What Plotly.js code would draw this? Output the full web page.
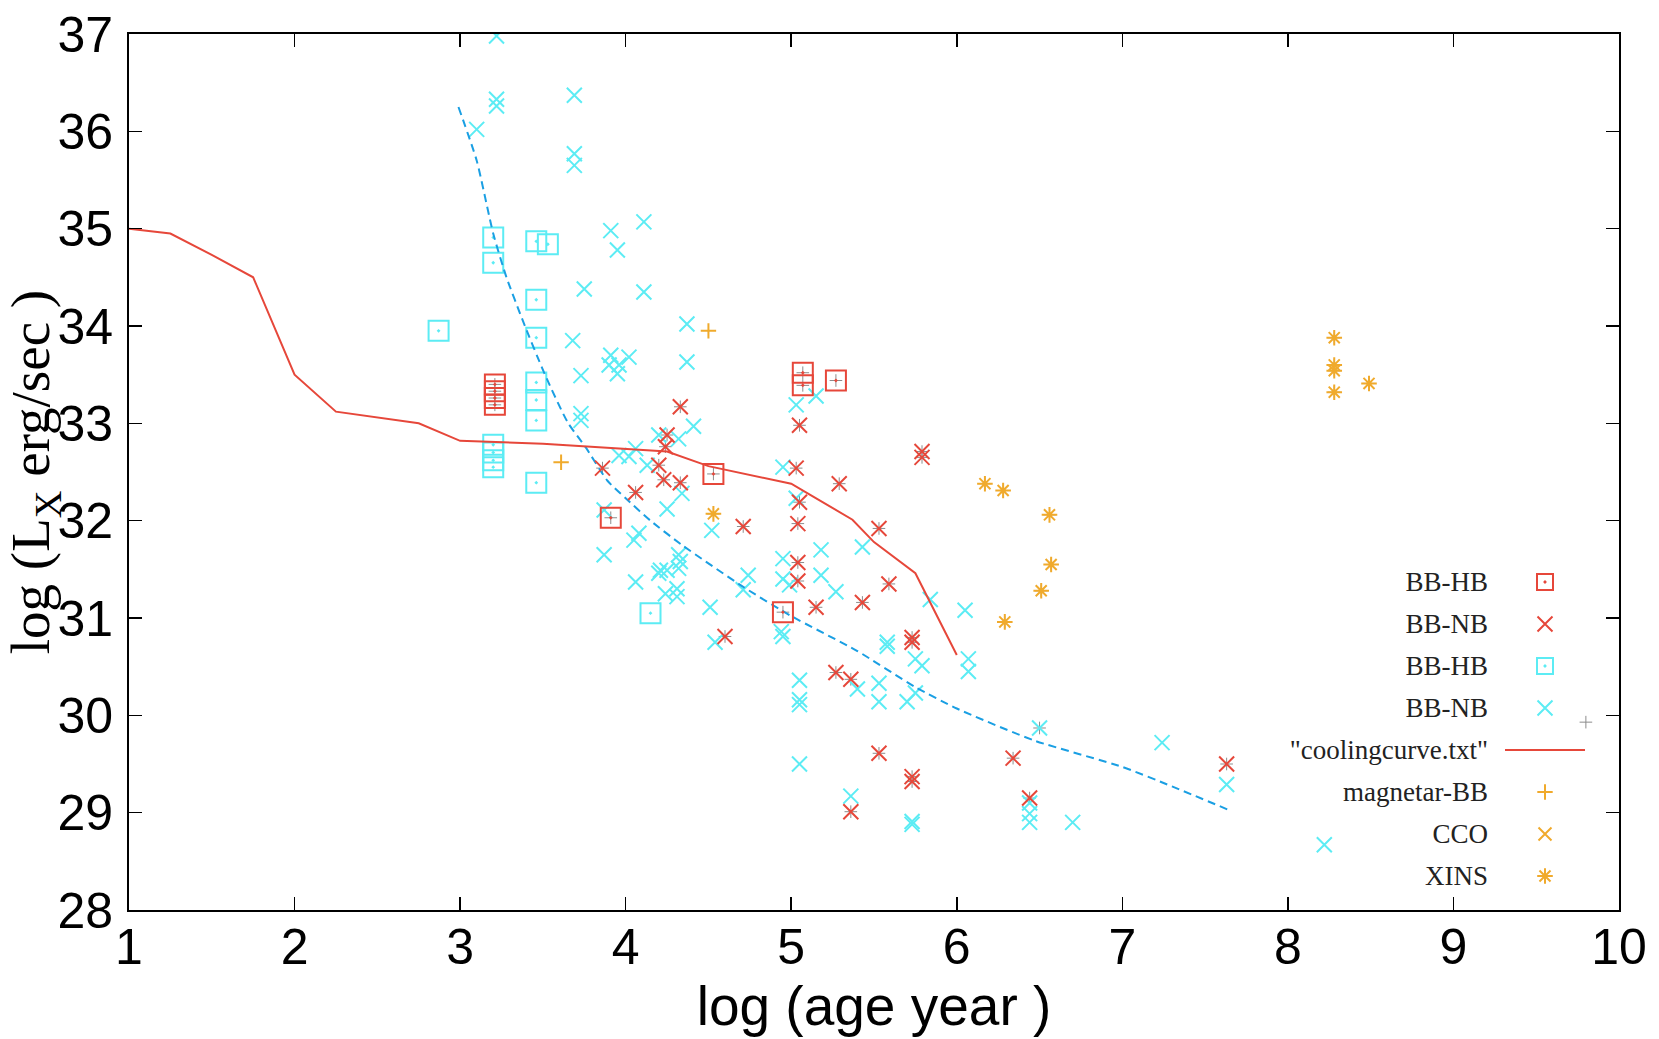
<!DOCTYPE html>
<html>
<head>
<meta charset="utf-8">
<script src="https://cdn.plot.ly/plotly-3.0.1.min.js"></script>
<style>html,body{margin:0;padding:0;background:#fff;}#chart{width:1659px;height:1039px;}</style>
</head>
<body>
<div id="chart"></div>
<script>
// ---------- data (log age [yr], log Lx [erg/s]) ----------
const hbRedX = [3.21, 3.21, 3.21, 3.21, 3.91, 4.53, 4.95, 5.07, 5.07, 5.27];
const hbRedY = [33.40, 33.33, 33.26, 33.19, 32.03, 32.48, 31.06, 33.52, 33.39, 33.44];

const nbRedX = [4.33, 4.25, 4.24, 3.86, 4.20, 4.23, 4.33, 4.06, 4.71, 5.05, 5.79, 5.79, 5.03, 5.29, 5.05,
                5.04, 5.53, 5.04, 5.04, 5.59, 5.43, 5.15, 4.60, 5.73, 5.73, 5.27, 5.36, 5.53, 5.73, 5.73,
                5.36, 6.34, 6.44, 7.63];
const nbRedY = [33.17, 32.88, 32.76, 32.54, 32.57, 32.42, 32.39, 32.29, 31.94, 32.98, 32.71, 32.65, 32.54, 32.38, 32.19,
                31.97, 31.92, 31.57, 31.38, 31.35, 31.16, 31.11, 30.81, 30.80, 30.75, 30.44, 30.37, 29.61, 29.37, 29.32,
                29.01, 29.56, 29.15, 29.50];

const hbCyanX = [2.87, 3.20, 3.20, 3.46, 3.53, 3.46, 3.46, 3.46, 3.46, 3.46, 3.20, 3.20, 3.20, 3.20, 3.46, 4.15];
const hbCyanY = [33.95, 34.91, 34.65, 34.87, 34.84, 34.27, 33.88, 33.42, 33.24, 33.03, 32.78, 32.70, 32.62, 32.55, 32.39, 31.05];

const nbCyanX = [3.22, 3.22, 3.22, 3.10, 3.69, 3.69, 3.69, 3.91, 4.11, 3.95, 3.75, 4.11, 4.37, 3.68, 4.37,
                 3.91, 4.02, 3.90, 3.95, 3.96, 3.73, 3.73, 3.73, 5.03, 5.15, 4.41, 4.20, 4.32, 4.06, 3.96,
                 4.02, 4.13, 4.34, 4.95, 3.87, 4.25, 5.03, 4.52, 4.08, 4.05, 3.87, 4.32, 4.33, 4.06, 4.21,
                 4.25, 4.32, 4.20, 4.24, 4.31, 4.31, 4.51, 4.74, 4.71, 4.95, 4.95, 4.99, 4.94, 4.95, 4.54,
                 5.43, 5.18, 5.18, 5.27, 5.84, 6.05, 6.07, 6.07, 5.58, 5.58, 5.75, 5.79, 5.05, 5.05, 5.05,
                 5.40, 5.53, 5.53, 5.70, 5.75, 5.05, 5.36, 5.73, 5.73, 6.50, 6.44, 6.44, 6.44, 6.70, 7.24,
                 7.63, 8.22];
const nbCyanY = [36.98, 36.33, 36.26, 36.02, 36.37, 35.77, 35.65, 34.98, 35.07, 34.78, 34.38, 34.35, 34.02, 33.85, 33.63,
                 33.70, 33.68, 33.60, 33.51, 33.60, 33.49, 33.10, 33.03, 33.19, 33.28, 32.97, 32.88, 32.84, 32.74, 32.67,
                 32.66, 32.57, 32.28, 32.55, 32.11, 32.12, 32.23, 31.90, 31.87, 31.80, 31.65, 31.65, 31.58, 31.37, 31.49,
                 31.49, 31.51, 31.46, 31.25, 31.30, 31.22, 31.11, 31.44, 31.29, 31.61, 31.40, 31.34, 30.86, 30.81, 30.75,
                 31.73, 31.70, 31.44, 31.27, 31.19, 31.08, 30.58, 30.45, 30.75, 30.71, 30.58, 30.51, 30.36, 30.16, 30.11,
                 30.27, 30.33, 30.14, 30.14, 30.23, 29.50, 29.17, 28.91, 28.88, 29.87, 29.10, 28.99, 28.90, 28.90, 29.72,
                 29.29, 28.67];

const coolX = [1.00, 1.25, 1.50, 1.75, 2.00, 2.25, 2.75, 3.00, 3.50, 4.25, 4.50, 5.00, 5.12, 5.37, 5.50, 5.75, 6.00];
const coolY = [35.00, 34.95, 34.73, 34.50, 33.50, 33.12, 33.00, 32.82, 32.79, 32.71, 32.56, 32.38, 32.26, 32.01, 31.78, 31.46, 30.62];

const modelX = [2.99, 3.10, 3.20, 3.28, 3.38, 3.51, 3.65, 3.76, 3.89, 4.00, 4.15, 4.34, 4.71, 5.00, 5.40, 5.75, 6.00, 6.47, 7.00, 7.30, 7.64];
const modelY = [36.25, 35.70, 34.95, 34.50, 34.05, 33.51, 33.01, 32.75, 32.41, 32.23, 32.00, 31.75, 31.32, 31.02, 30.66, 30.29, 30.07, 29.74, 29.47, 29.27, 29.03];

const magX = [3.61, 4.50];
const magY = [32.60, 33.95];

// no CCO point is visible in the figure; the key is still listed
const ccoX = [null];
const ccoY = [null];

const xinsX = [4.53, 6.17, 6.28, 6.56, 6.57, 6.51, 6.29, 8.28, 8.28, 8.28, 8.28, 8.49];
const xinsY = [32.07, 32.38, 32.31, 32.06, 31.55, 31.28, 30.96, 33.88, 33.60, 33.54, 33.32, 33.41];

const grayExtraX = [6.50, 9.80];
const grayExtraY = [29.87, 29.93];

const legendLabels = ['BB-HB', 'BB-NB', 'BB-HB', 'BB-NB', '"coolingcurve.txt"', 'magnetar-BB', 'CCO', 'XINS'];

// ---------- styles ----------
const RED = '#e6473a';
const CYAN = '#5cecf4';
const ORANGE = '#f0aa2c';
const BLUE = '#1a9fe3';

const grayX = hbRedX.concat(nbRedX, xinsX, grayExtraX);
const grayY = hbRedY.concat(nbRedY, xinsY, grayExtraY);

function pts(x, y, name, sym, color, size, lw, rank, show) {
  return {
    x: x, y: y, type: 'scatter', mode: 'markers', name: name,
    showlegend: show, legendrank: rank,
    marker: {symbol: sym, color: color, size: size, line: {color: color, width: lw}},
    hovertemplate: '%{x}, %{y}<extra></extra>'
  };
}

const traces = [
  pts(grayX, grayY, 'all', 'cross-thin-open', '#8c8c8c', 9, 1, 100, false),
  pts(nbCyanX, nbCyanY, legendLabels[3], 'x-thin-open', CYAN, 15, 2, 4, true),
  pts(hbCyanX, hbCyanY, legendLabels[2], 'square-open-dot', CYAN, 20, 2, 3, true),
  {x: modelX, y: modelY, type: 'scatter', mode: 'lines', showlegend: false, name: 'model',
   line: {color: BLUE, width: 2, dash: '8px,5px', shape: 'spline', smoothing: 0.6}, hoverinfo: 'skip'},
  pts(nbRedX, nbRedY, legendLabels[1], 'x-thin-open', RED, 15, 2, 2, true),
  pts(hbRedX, hbRedY, legendLabels[0], 'square-open-dot', RED, 20, 2, 1, true),
  {x: coolX, y: coolY, type: 'scatter', mode: 'lines', name: legendLabels[4], legendrank: 5,
   line: {color: RED, width: 2}, hoverinfo: 'skip'},
  pts(magX, magY, legendLabels[5], 'cross-thin-open', ORANGE, 11, 2, 6, true),
  pts(ccoX, ccoY, legendLabels[6], 'x-thin-open', ORANGE, 13, 2, 7, true),
  pts(xinsX, xinsY, legendLabels[7], 'asterisk-open', ORANGE, 13, 2, 8, true)
];

const axisBase = {
  showgrid: false, zeroline: false, showline: true, linecolor: '#000', linewidth: 2,
  mirror: 'ticks', ticks: 'inside', ticklen: 13, tickwidth: 1.5, tickcolor: '#000',
  tickfont: {family: 'Liberation Sans, Arial, Helvetica, sans-serif', size: 50, color: '#000'},
  dtick: 1
};

const layout = {
  width: 1659, height: 1039,
  margin: {l: 129, r: 40, t: 34, b: 129, autoexpand: false},
  paper_bgcolor: '#fff', plot_bgcolor: '#fff',
  showlegend: true,
  legend: {x: 0.9336, y: 0.404, xanchor: 'left', yanchor: 'top', bgcolor: 'rgba(0,0,0,0)',
           font: {family: 'Liberation Serif, Times New Roman, serif', size: 30, color: '#222'}, traceorder: 'normal'},
  xaxis: Object.assign({}, axisBase, {
    range: [1, 10], tick0: 1, ticklabelstandoff: -8,
    title: {text: 'log (age year )', font: {family: 'Liberation Sans, Arial, sans-serif', size: 55, color: '#000'}, standoff: 8}
  }),
  yaxis: Object.assign({}, axisBase, {
    range: [28, 37], tick0: 28, ticklabelstandoff: 4,
    title: {text: 'log (L<sub>X</sub> erg/sec )', font: {family: 'Liberation Serif, Times New Roman, serif', size: 55, color: '#000'}, standoff: 0}
  })
};

// gnuplot-style key: label on the left, sample on the right
const KEY_X = 1545, KEY_Y0 = 582, TEXT_RIGHT = 1488, KEY_FONT = 27, TEXT_DY = -3;
const ZW = '\u200b';

Plotly.newPlot('chart', traces, layout, {displayModeBar: false, staticPlot: true}).then(function (gd) {
  // zero-width helper pieces used for sub/sup baselines: fold the following text into them
  gd.querySelectorAll('tspan').forEach(s => {
    if (s.textContent.replace(/\u200b/g, '') !== '' || s.children.length) return;
    const nx = s.nextSibling;
    if (nx && nx.nodeType === 3 && nx.textContent.replace(/\u200b/g, '').trim() !== '') {
      s.textContent = nx.textContent.replace(/\u200b/g, '');
      nx.remove();
    } else {
      s.remove();
    }
  });
  gd.querySelectorAll('text').forEach(t => {
    t.childNodes.forEach(n => { if (n.nodeType === 3 && n.textContent.indexOf(ZW) >= 0) n.textContent = n.textContent.replace(/\u200b/g, ''); });
    if (!t.textContent.trim()) t.remove();
  });

  const legend = gd.querySelector('g.legend');
  if (!legend) return;
  legend.querySelectorAll('[clip-path]').forEach(el => el.removeAttribute('clip-path'));
  const items = Array.from(legend.querySelectorAll('g.traces'));
  if (!items.length) return;
  const first = items[0].querySelector('.legendpoints path') || items[0].querySelector('.legendpoints');
  const r0 = first.getBoundingClientRect();
  const dx = KEY_X - (r0.left + r0.width / 2), dy = KEY_Y0 - (r0.top + r0.height / 2);
  const tr = legend.getAttribute('transform') || '';
  const m = tr.match(/translate\(\s*([-\d.]+)[ ,]+([-\d.]+)\s*\)/);
  const lx = m ? parseFloat(m[1]) : 0, ly = m ? parseFloat(m[2]) : 0;
  legend.setAttribute('transform', 'translate(' + (lx + dx) + ',' + (ly + dy) + ')');
  items.forEach(g => {
    const line = g.querySelector('.legendlines path');
    if (line) line.setAttribute('d', 'M-20,0h80');
    const t = g.querySelector('text.legendtext');
    if (!t) return;
    t.style.fontSize = KEY_FONT + 'px';
    t.setAttribute('text-anchor', 'end');
    t.style.textAnchor = 'end';
    const x0 = parseFloat(t.getAttribute('x') || '0');
    const y0 = parseFloat(t.getAttribute('y') || '0');
    const rr = t.getBoundingClientRect();
    const nx = x0 + (TEXT_RIGHT - rr.right);
    t.setAttribute('x', nx);
    t.setAttribute('y', y0 + TEXT_DY);
    t.querySelectorAll('tspan[x]').forEach(s => s.setAttribute('x', nx));
  });
});
</script>
</body>
</html>
